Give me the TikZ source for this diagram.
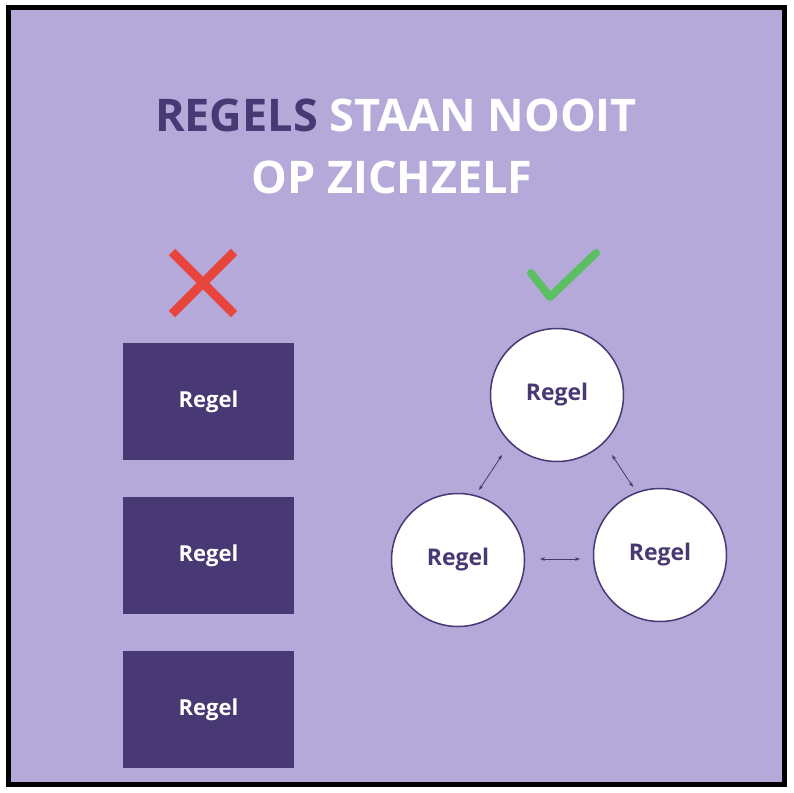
\documentclass[tikz,border=0pt]{standalone}
\usepackage{fontspec}
\setmainfont{Open Sans}
\usetikzlibrary{arrows.meta}
\definecolor{lila}{HTML}{B5A9D9}
\definecolor{donker}{HTML}{483873}
\definecolor{rood}{HTML}{E8463C}
\definecolor{groen}{HTML}{5CBF63}
\begin{document}
\begin{tikzpicture}[x=1pt,y=-1pt,
  blok/.style={fill=donker,minimum width=171pt,minimum height=117pt,
               text=white,font=\bfseries\fontsize{22}{24}\selectfont},
  regel/.style={circle,draw=donker,line width=1.5pt,fill=white,minimum size=133pt,
                text=donker,font=\bfseries\fontsize{23}{25}\selectfont},
  pijl/.style={{Stealth[length=5pt]}-{Stealth[length=5pt]},donker,line width=0.8pt}]
  \useasboundingbox (0,0) rectangle (794,792);
  \draw[fill=lila,line width=5pt] (8,8) rectangle (784,784);
  % titel
  \node[font=\bfseries\fontsize{45}{50}\selectfont] (titel1) at (396,115)
    {\textcolor{donker}{REGELS} \textcolor{white}{STAAN NOOIT}};
  \node[font=\bfseries\fontsize{45}{50}\selectfont,text=white] (titel2) at (392,177) {OP ZICHZELF};
  % fout
  \draw[rood,line width=9pt] (172,252) -- (234,314) (234,252) -- (172,314);
  \node[blok] (r1) at (208.5,401.5) {Regel};
  \node[blok] (r2) at (208.5,555.5) {Regel};
  \node[blok] (r3) at (208.5,709.5) {Regel};
  % goed
  \draw[groen,line width=8pt,line cap=round,line join=round] (531,273) -- (550,297) -- (596,253);
  \node[regel] (c1) at (557,395) {Regel};
  \node[regel] (c2) at (458,560) {Regel};
  \node[regel] (c3) at (660,555) {Regel};
  \draw[pijl] (c1) ++(-55,60) -- ++(-23,35);
  \draw[pijl] (c1) ++(55,60) -- ++(21,32);
  \draw[pijl] (c2) ++(82,-1) -- ++(40,0);
\end{tikzpicture}
\end{document}
